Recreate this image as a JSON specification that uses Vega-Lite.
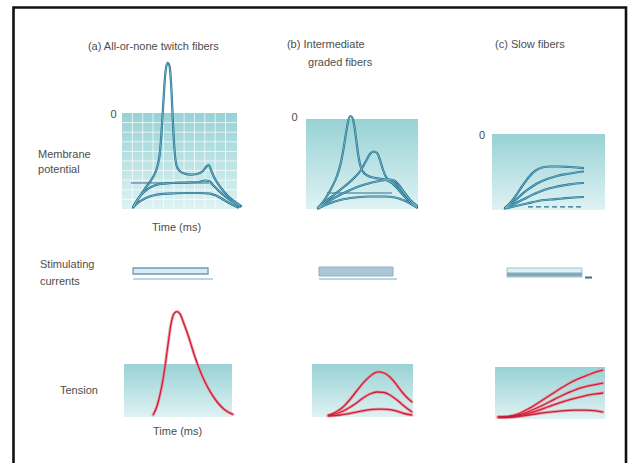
{
"$schema": "https://vega.github.io/schema/vega-lite/v6.json",
"width": 632, "height": 463, "padding": 0, "autosize": {"type": "none"},
"background": "#ffffff",
"config": {"view": {"stroke": null}, "text": {"font": "Liberation Sans"}},
"datasets": {
"frame": [{"t": 0, "t2": 1, "v": 0, "v2": 1}],
"am_bg": [{"t": 0, "t2": 100, "v": -90, "v2": 0}],
"am_grid": [
{"t": 9, "t2": 9, "v": -90, "v2": 0}, {"t": 18, "t2": 18, "v": -90, "v2": 0}, {"t": 27, "t2": 27, "v": -90, "v2": 0},
{"t": 36, "t2": 36, "v": -90, "v2": 0}, {"t": 45, "t2": 45, "v": -90, "v2": 0}, {"t": 54, "t2": 54, "v": -90, "v2": 0},
{"t": 63, "t2": 63, "v": -90, "v2": 0}, {"t": 72, "t2": 72, "v": -90, "v2": 0}, {"t": 81, "t2": 81, "v": -90, "v2": 0},
{"t": 90, "t2": 90, "v": -90, "v2": 0},
{"t": 0, "t2": 100, "v": -9, "v2": -9}, {"t": 0, "t2": 100, "v": -18, "v2": -18}, {"t": 0, "t2": 100, "v": -27, "v2": -27},
{"t": 0, "t2": 100, "v": -36, "v2": -36}, {"t": 0, "t2": 100, "v": -45, "v2": -45}, {"t": 0, "t2": 100, "v": -54, "v2": -54},
{"t": 0, "t2": 100, "v": -63, "v2": -63}, {"t": 0, "t2": 100, "v": -72, "v2": -72}, {"t": 0, "t2": 100, "v": -81, "v2": -81}
],
"am_thr": [{"t": 7.8, "t2": 75.7, "v": -65.6, "v2": -65.6}],
"am_curves": [
{"s": "S", "t": 9.6, "v": -88.1}, {"s": "S", "t": 15.7, "v": -77.8}, {"s": "S", "t": 21.7, "v": -68.4}, {"s": "S", "t": 27.0, "v": -60.0},
{"s": "S", "t": 30.4, "v": -51.6}, {"s": "S", "t": 33.0, "v": -36.6}, {"s": "S", "t": 34.8, "v": -11.3}, {"s": "S", "t": 36.5, "v": 19.7},
{"s": "S", "t": 37.8, "v": 38.4}, {"s": "S", "t": 39.6, "v": 46.9}, {"s": "S", "t": 41.3, "v": 44.1}, {"s": "S", "t": 42.6, "v": 29.1},
{"s": "S", "t": 43.9, "v": 0.9}, {"s": "S", "t": 45.2, "v": -27.2}, {"s": "S", "t": 46.5, "v": -44.1}, {"s": "S", "t": 48.7, "v": -52.5},
{"s": "S", "t": 53.0, "v": -56.3}, {"s": "S", "t": 59.1, "v": -57.7}, {"s": "S", "t": 65.2, "v": -57.2}, {"s": "S", "t": 70.4, "v": -54.4},
{"s": "S", "t": 73.9, "v": -49.7}, {"s": "S", "t": 75.7, "v": -48.8}, {"s": "S", "t": 77.4, "v": -53.4}, {"s": "S", "t": 80.9, "v": -61.9},
{"s": "S", "t": 86.1, "v": -70.3}, {"s": "S", "t": 92.2, "v": -77.8}, {"s": "S", "t": 98.3, "v": -83.4}, {"s": "S", "t": 103.5, "v": -87.2},
{"s": "M", "t": 9.6, "v": -88.1}, {"s": "M", "t": 13.9, "v": -80.6}, {"s": "M", "t": 19.1, "v": -74.1}, {"s": "M", "t": 25.2, "v": -69.4},
{"s": "M", "t": 33.0, "v": -66.6}, {"s": "M", "t": 43.5, "v": -65.6}, {"s": "M", "t": 54.8, "v": -65.2}, {"s": "M", "t": 66.1, "v": -64.7},
{"s": "M", "t": 72.2, "v": -63.3}, {"s": "M", "t": 75.7, "v": -63.8}, {"s": "M", "t": 79.1, "v": -67.5}, {"s": "M", "t": 84.3, "v": -73.1},
{"s": "M", "t": 90.4, "v": -78.8}, {"s": "M", "t": 96.5, "v": -83.4}, {"s": "M", "t": 102.6, "v": -87.7},
{"s": "L", "t": 9.6, "v": -88.6}, {"s": "L", "t": 14.8, "v": -83.4}, {"s": "L", "t": 20.9, "v": -79.7}, {"s": "L", "t": 28.7, "v": -76.9},
{"s": "L", "t": 40.0, "v": -75.5}, {"s": "L", "t": 54.8, "v": -75.0}, {"s": "L", "t": 67.8, "v": -75.0}, {"s": "L", "t": 76.5, "v": -75.5},
{"s": "L", "t": 82.6, "v": -77.8}, {"s": "L", "t": 88.7, "v": -81.6}, {"s": "L", "t": 94.8, "v": -85.3}, {"s": "L", "t": 100.9, "v": -88.6}
],
"am_text": [
{"t": -29.6, "v": 61.9, "label": "(a) All-or-none twitch fibers"},
{"t": -10, "v": -1.5, "label": "0"},
{"t": -73, "v": -39.4, "label": "Membrane"},
{"t": -73, "v": -53.4, "label": "potential"},
{"t": 26.1, "v": -107.8, "label": "Time (ms)"}
],
"bm_bg": [{"t": 0, "t2": 100, "v": -90, "v2": 0}],
"bm_thr": [{"t": 18.8, "t2": 76.8, "v": -74, "v2": -74}],
"bm_curves": [
{"s": "B1", "t": 10.7, "v": -89}, {"s": "B1", "t": 17.0, "v": -80}, {"s": "B1", "t": 22.3, "v": -70}, {"s": "B1", "t": 27.7, "v": -57},
{"s": "B1", "t": 31.3, "v": -43}, {"s": "B1", "t": 33.9, "v": -27}, {"s": "B1", "t": 36.2, "v": -11}, {"s": "B1", "t": 37.9, "v": -1},
{"s": "B1", "t": 39.7, "v": 3}, {"s": "B1", "t": 41.5, "v": 1}, {"s": "B1", "t": 43.3, "v": -8}, {"s": "B1", "t": 45.1, "v": -23},
{"s": "B1", "t": 46.9, "v": -38}, {"s": "B1", "t": 49.1, "v": -49}, {"s": "B1", "t": 52.7, "v": -55}, {"s": "B1", "t": 58.0, "v": -58},
{"s": "B1", "t": 65.2, "v": -59.5}, {"s": "B1", "t": 71.4, "v": -61}, {"s": "B1", "t": 76.8, "v": -64}, {"s": "B1", "t": 82.1, "v": -70},
{"s": "B1", "t": 87.5, "v": -77}, {"s": "B1", "t": 92.9, "v": -83}, {"s": "B1", "t": 99.1, "v": -88},
{"s": "B2", "t": 10.7, "v": -89}, {"s": "B2", "t": 17.9, "v": -82}, {"s": "B2", "t": 25.9, "v": -75}, {"s": "B2", "t": 34.8, "v": -67},
{"s": "B2", "t": 42.9, "v": -59}, {"s": "B2", "t": 49.1, "v": -51}, {"s": "B2", "t": 53.6, "v": -42}, {"s": "B2", "t": 57.1, "v": -35},
{"s": "B2", "t": 60.3, "v": -32.5}, {"s": "B2", "t": 63.4, "v": -34}, {"s": "B2", "t": 66.1, "v": -41}, {"s": "B2", "t": 68.8, "v": -51},
{"s": "B2", "t": 71.4, "v": -58}, {"s": "B2", "t": 75.0, "v": -62}, {"s": "B2", "t": 79.5, "v": -65}, {"s": "B2", "t": 83.9, "v": -69},
{"s": "B2", "t": 88.4, "v": -75}, {"s": "B2", "t": 93.8, "v": -82}, {"s": "B2", "t": 99.1, "v": -87.5},
{"s": "B3", "t": 10.7, "v": -89}, {"s": "B3", "t": 17.9, "v": -84}, {"s": "B3", "t": 26.8, "v": -78}, {"s": "B3", "t": 37.5, "v": -72},
{"s": "B3", "t": 48.2, "v": -67}, {"s": "B3", "t": 58.9, "v": -63.5}, {"s": "B3", "t": 67.9, "v": -61.5}, {"s": "B3", "t": 74.1, "v": -60.5},
{"s": "B3", "t": 78.6, "v": -61.5}, {"s": "B3", "t": 83.0, "v": -66}, {"s": "B3", "t": 87.5, "v": -73}, {"s": "B3", "t": 92.9, "v": -81},
{"s": "B3", "t": 99.1, "v": -87},
{"s": "B4", "t": 10.7, "v": -89.5}, {"s": "B4", "t": 19.6, "v": -85}, {"s": "B4", "t": 30.4, "v": -81}, {"s": "B4", "t": 43.8, "v": -78.5},
{"s": "B4", "t": 57.1, "v": -77.5}, {"s": "B4", "t": 70.5, "v": -77.5}, {"s": "B4", "t": 79.5, "v": -78.5}, {"s": "B4", "t": 86.6, "v": -81},
{"s": "B4", "t": 92.9, "v": -84.5}, {"s": "B4", "t": 99.1, "v": -88.5}
],
"bm_text": [
{"t": -17, "v": 74, "label": "(b) Intermediate"},
{"t": 1.8, "v": 56, "label": "graded fibers"},
{"t": -12.9, "v": 1, "label": "0"}
],
"cm_bg": [{"t": 0, "t2": 100, "v": -90, "v2": 0}],
"cm_thr": [{"t": 31.9, "t2": 79.6, "v": -86.4, "v2": -86.4}],
"cm_curves": [
{"s": "C1", "t": 11.5, "v": -87.6}, {"s": "C1", "t": 16.8, "v": -80.5}, {"s": "C1", "t": 22.1, "v": -71.1}, {"s": "C1", "t": 27.4, "v": -60.4},
{"s": "C1", "t": 32.7, "v": -50.9}, {"s": "C1", "t": 38.1, "v": -43.8}, {"s": "C1", "t": 44.2, "v": -39.7}, {"s": "C1", "t": 51.3, "v": -38.5},
{"s": "C1", "t": 60.2, "v": -38.5}, {"s": "C1", "t": 69.0, "v": -39.1}, {"s": "C1", "t": 75.2, "v": -39.7}, {"s": "C1", "t": 80.5, "v": -40.3},
{"s": "C2", "t": 11.5, "v": -87.6}, {"s": "C2", "t": 17.7, "v": -81.7}, {"s": "C2", "t": 24.8, "v": -73.4}, {"s": "C2", "t": 31.9, "v": -65.7},
{"s": "C2", "t": 39.8, "v": -58.6}, {"s": "C2", "t": 48.7, "v": -53.3}, {"s": "C2", "t": 57.5, "v": -49.7}, {"s": "C2", "t": 66.4, "v": -47.4},
{"s": "C2", "t": 74.3, "v": -45.6}, {"s": "C2", "t": 80.5, "v": -44.4},
{"s": "C3", "t": 11.5, "v": -87.6}, {"s": "C3", "t": 19.5, "v": -82.9}, {"s": "C3", "t": 28.3, "v": -77.0}, {"s": "C3", "t": 37.2, "v": -71.1},
{"s": "C3", "t": 46.0, "v": -66.3}, {"s": "C3", "t": 55.8, "v": -62.8}, {"s": "C3", "t": 65.5, "v": -60.4}, {"s": "C3", "t": 74.3, "v": -58.6},
{"s": "C3", "t": 80.5, "v": -58.0},
{"s": "C4", "t": 11.5, "v": -88.2}, {"s": "C4", "t": 21.2, "v": -85.3}, {"s": "C4", "t": 31.0, "v": -82.3}, {"s": "C4", "t": 40.7, "v": -79.3},
{"s": "C4", "t": 51.3, "v": -77.6}, {"s": "C4", "t": 61.9, "v": -76.4}, {"s": "C4", "t": 72.6, "v": -75.2}, {"s": "C4", "t": 80.5, "v": -74.6}
],
"cm_text": [
{"t": 2.7, "v": 105.4, "label": "(c) Slow fibers"},
{"t": -11.5, "v": -2.4, "label": "0"}
],
"sa_rect": [{"t": 9.6, "t2": 74.8, "v": 7, "v2": 13}],
"sa_line": [{"t": 9.6, "t2": 79.1, "v": 2, "v2": 2}],
"sa_text": [
{"t": -71.3, "v": 16, "label": "Stimulating"},
{"t": -71.3, "v": -1, "label": "currents"}
],
"sb_rect": [{"t": 11.6, "t2": 77.7, "v": 5, "v2": 14}],
"sb_line": [{"t": 11.6, "t2": 81.3, "v": 2, "v2": 2}],
"sc_rect": [{"t": 13.3, "t2": 79.6, "v": 4, "v2": 13}],
"sc_band": [{"t": 13.3, "t2": 79.6, "v": 4.5, "v2": 8.5}],
"sc_tick": [{"t": 82.3, "t2": 88.5, "v": 3.5, "v2": 3.5}],
"at_bg": [{"t": 0, "t2": 100, "v": 0, "v2": 50}],
"at_curves": [
{"s": "A", "t": 26.9, "v": 1.9}, {"s": "A", "t": 30.6, "v": 10.4}, {"s": "A", "t": 34.3, "v": 25.5}, {"s": "A", "t": 37.5, "v": 44.3},
{"s": "A", "t": 40.7, "v": 67.9}, {"s": "A", "t": 43.5, "v": 87.7}, {"s": "A", "t": 46.3, "v": 97.6}, {"s": "A", "t": 49.1, "v": 99.5},
{"s": "A", "t": 51.9, "v": 97.2}, {"s": "A", "t": 55.6, "v": 87.7}, {"s": "A", "t": 60.2, "v": 74.5}, {"s": "A", "t": 64.8, "v": 59.4},
{"s": "A", "t": 69.4, "v": 46.2}, {"s": "A", "t": 75.0, "v": 33.0}, {"s": "A", "t": 80.6, "v": 22.6}, {"s": "A", "t": 87.0, "v": 13.2},
{"s": "A", "t": 93.5, "v": 6.6}, {"s": "A", "t": 100.9, "v": 2.4}
],
"at_text": [
{"t": -59.3, "v": 24.5, "label": "Tension"},
{"t": 26.9, "v": -14.2, "label": "Time (ms)"}
],
"bt_bg": [{"t": 0, "t2": 100, "v": 0, "v2": 50}],
"bt_curves": [
{"s": "T1", "t": 15.8, "v": 1.4}, {"s": "T1", "t": 22.8, "v": 4.2}, {"s": "T1", "t": 30.7, "v": 9.4}, {"s": "T1", "t": 37.6, "v": 16.5},
{"s": "T1", "t": 44.6, "v": 25.0}, {"s": "T1", "t": 51.5, "v": 33.0}, {"s": "T1", "t": 58.4, "v": 39.2}, {"s": "T1", "t": 65.3, "v": 42.5},
{"s": "T1", "t": 71.3, "v": 41.5}, {"s": "T1", "t": 77.2, "v": 37.7}, {"s": "T1", "t": 83.2, "v": 31.1}, {"s": "T1", "t": 89.1, "v": 23.6},
{"s": "T1", "t": 95.0, "v": 17.5}, {"s": "T1", "t": 99.0, "v": 14.2},
{"s": "T2", "t": 15.8, "v": 1.4}, {"s": "T2", "t": 24.8, "v": 3.3}, {"s": "T2", "t": 33.7, "v": 7.1}, {"s": "T2", "t": 42.6, "v": 12.3},
{"s": "T2", "t": 50.5, "v": 17.9}, {"s": "T2", "t": 57.4, "v": 21.7}, {"s": "T2", "t": 64.4, "v": 23.6}, {"s": "T2", "t": 71.3, "v": 23.1},
{"s": "T2", "t": 77.2, "v": 20.8}, {"s": "T2", "t": 84.2, "v": 16.0}, {"s": "T2", "t": 91.1, "v": 10.4}, {"s": "T2", "t": 99.0, "v": 4.7},
{"s": "T3", "t": 15.8, "v": 0.9}, {"s": "T3", "t": 27.7, "v": 1.9}, {"s": "T3", "t": 39.6, "v": 3.8}, {"s": "T3", "t": 49.5, "v": 5.7},
{"s": "T3", "t": 59.4, "v": 7.1}, {"s": "T3", "t": 67.3, "v": 7.5}, {"s": "T3", "t": 75.2, "v": 7.1}, {"s": "T3", "t": 83.2, "v": 5.7},
{"s": "T3", "t": 91.1, "v": 3.3}, {"s": "T3", "t": 99.0, "v": 1.9}
],
"ct_bg": [{"t": 0, "t2": 100, "v": 0, "v2": 50}],
"ct_curves": [
{"s": "U1", "t": 2.7, "v": 1.9}, {"s": "U1", "t": 11.8, "v": 2.4}, {"s": "U1", "t": 20.9, "v": 4.8}, {"s": "U1", "t": 30.0, "v": 9.6},
{"s": "U1", "t": 39.1, "v": 15.4}, {"s": "U1", "t": 48.2, "v": 21.6}, {"s": "U1", "t": 57.3, "v": 27.9}, {"s": "U1", "t": 66.4, "v": 33.7},
{"s": "U1", "t": 75.5, "v": 38.5}, {"s": "U1", "t": 84.5, "v": 42.3}, {"s": "U1", "t": 91.8, "v": 45.2}, {"s": "U1", "t": 98.2, "v": 47.1},
{"s": "U2", "t": 2.7, "v": 1.9}, {"s": "U2", "t": 13.6, "v": 2.4}, {"s": "U2", "t": 22.7, "v": 4.3}, {"s": "U2", "t": 31.8, "v": 7.7},
{"s": "U2", "t": 40.9, "v": 12.0}, {"s": "U2", "t": 50.0, "v": 16.8}, {"s": "U2", "t": 59.1, "v": 21.6}, {"s": "U2", "t": 68.2, "v": 26.0},
{"s": "U2", "t": 77.3, "v": 29.8}, {"s": "U2", "t": 86.4, "v": 32.2}, {"s": "U2", "t": 98.2, "v": 34.6},
{"s": "U3", "t": 2.7, "v": 1.9}, {"s": "U3", "t": 15.5, "v": 2.4}, {"s": "U3", "t": 24.5, "v": 3.8}, {"s": "U3", "t": 33.6, "v": 6.3},
{"s": "U3", "t": 42.7, "v": 9.6}, {"s": "U3", "t": 51.8, "v": 13.0}, {"s": "U3", "t": 60.9, "v": 16.3}, {"s": "U3", "t": 70.0, "v": 19.2},
{"s": "U3", "t": 79.1, "v": 21.6}, {"s": "U3", "t": 88.2, "v": 23.6}, {"s": "U3", "t": 98.2, "v": 25.0},
{"s": "U4", "t": 2.7, "v": 1.4}, {"s": "U4", "t": 17.3, "v": 1.9}, {"s": "U4", "t": 28.2, "v": 3.4}, {"s": "U4", "t": 39.1, "v": 5.3},
{"s": "U4", "t": 50.0, "v": 6.7}, {"s": "U4", "t": 60.9, "v": 7.9}, {"s": "U4", "t": 71.8, "v": 8.5}, {"s": "U4", "t": 82.7, "v": 8.5},
{"s": "U4", "t": 91.8, "v": 7.9}, {"s": "U4", "t": 98.2, "v": 6.7}
]
},
"resolve": {"scale": {"x": "independent", "y": "independent"}},
"layer": [
{
"data": {"name": "frame"},
"mark": {"type": "rect", "filled": false, "color": "#111111", "strokeWidth": 2.6},
"encoding": {
"x": {"field": "t", "type": "quantitative", "scale": {"domain": [0, 1], "range": [13.5, 626], "nice": false, "zero": false}, "axis": null},
"x2": {"field": "t2"},
"y": {"field": "v", "type": "quantitative", "scale": {"domain": [0, 1], "range": [7.5, 480], "nice": false, "zero": false}, "axis": null},
"y2": {"field": "v2"}
}
},
{
"encoding": {
"x": {"field": "t", "type": "quantitative", "scale": {"domain": [0, 100], "range": [122, 237], "nice": false, "zero": false}, "axis": null},
"y": {"field": "v", "type": "quantitative", "scale": {"domain": [-90, 0], "range": [209, 113], "nice": false, "zero": false}, "axis": null}
},
"layer": [
{"data": {"name": "am_bg"}, "mark": {"type": "rect", "stroke": null, "fill": {"gradient": "linear", "x1": 0, "y1": 0, "x2": 0, "y2": 1, "stops": [{"offset": 0, "color": "#98d2d5"}, {"offset": 1, "color": "#dff2f3"}]}}, "encoding": {"x2": {"field": "t2"}, "y2": {"field": "v2"}}},
{"data": {"name": "am_grid"}, "mark": {"type": "rule", "color": "#ffffff", "strokeWidth": 1, "opacity": 0.7}, "encoding": {"x2": {"field": "t2"}, "y2": {"field": "v2"}}},
{"data": {"name": "am_thr"}, "mark": {"type": "rule", "color": "#2a7090", "strokeWidth": 1}, "encoding": {"x2": {"field": "t2"}, "y2": {"field": "v2"}}},
{"data": {"name": "am_curves"}, "mark": {"type": "line", "interpolate": "monotone", "color": "#22708f", "strokeWidth": 2.2, "strokeJoin": "round", "strokeCap": "round"}, "encoding": {"detail": {"field": "s", "type": "nominal"}}},
{"data": {"name": "am_curves"}, "mark": {"type": "line", "interpolate": "monotone", "color": "#8cc8d8", "strokeWidth": 0.7}, "encoding": {"detail": {"field": "s", "type": "nominal"}}},
{"data": {"name": "am_text"}, "mark": {"type": "text", "align": "left", "baseline": "middle", "fontSize": 11, "color": "#4d4d4d"}, "encoding": {"text": {"field": "label", "type": "nominal"}}}
]
},
{
"encoding": {
"x": {"field": "t", "type": "quantitative", "scale": {"domain": [0, 100], "range": [306, 418], "nice": false, "zero": false}, "axis": null},
"y": {"field": "v", "type": "quantitative", "scale": {"domain": [-90, 0], "range": [209, 119], "nice": false, "zero": false}, "axis": null}
},
"layer": [
{"data": {"name": "bm_bg"}, "mark": {"type": "rect", "stroke": null, "fill": {"gradient": "linear", "x1": 0, "y1": 0, "x2": 0, "y2": 1, "stops": [{"offset": 0, "color": "#98d2d5"}, {"offset": 1, "color": "#dff2f3"}]}}, "encoding": {"x2": {"field": "t2"}, "y2": {"field": "v2"}}},
{"data": {"name": "bm_thr"}, "mark": {"type": "rule", "color": "#2a7090", "strokeWidth": 1.2}, "encoding": {"x2": {"field": "t2"}, "y2": {"field": "v2"}}},
{"data": {"name": "bm_curves"}, "mark": {"type": "line", "interpolate": "monotone", "color": "#22708f", "strokeWidth": 2.2, "strokeJoin": "round", "strokeCap": "round"}, "encoding": {"detail": {"field": "s", "type": "nominal"}}},
{"data": {"name": "bm_curves"}, "mark": {"type": "line", "interpolate": "monotone", "color": "#8cc8d8", "strokeWidth": 0.7}, "encoding": {"detail": {"field": "s", "type": "nominal"}}},
{"data": {"name": "bm_text"}, "mark": {"type": "text", "align": "left", "baseline": "middle", "fontSize": 11, "color": "#4d4d4d"}, "encoding": {"text": {"field": "label", "type": "nominal"}}}
]
},
{
"encoding": {
"x": {"field": "t", "type": "quantitative", "scale": {"domain": [0, 100], "range": [492, 605], "nice": false, "zero": false}, "axis": null},
"y": {"field": "v", "type": "quantitative", "scale": {"domain": [-90, 0], "range": [210, 134], "nice": false, "zero": false}, "axis": null}
},
"layer": [
{"data": {"name": "cm_bg"}, "mark": {"type": "rect", "stroke": null, "fill": {"gradient": "linear", "x1": 0, "y1": 0, "x2": 0, "y2": 1, "stops": [{"offset": 0, "color": "#98d2d5"}, {"offset": 1, "color": "#dff2f3"}]}}, "encoding": {"x2": {"field": "t2"}, "y2": {"field": "v2"}}},
{"data": {"name": "cm_thr"}, "mark": {"type": "rule", "color": "#2a7090", "strokeWidth": 1.2, "strokeDash": [5, 3]}, "encoding": {"x2": {"field": "t2"}, "y2": {"field": "v2"}}},
{"data": {"name": "cm_curves"}, "mark": {"type": "line", "interpolate": "monotone", "color": "#22708f", "strokeWidth": 2.2, "strokeJoin": "round", "strokeCap": "round"}, "encoding": {"detail": {"field": "s", "type": "nominal"}}},
{"data": {"name": "cm_curves"}, "mark": {"type": "line", "interpolate": "monotone", "color": "#8cc8d8", "strokeWidth": 0.7}, "encoding": {"detail": {"field": "s", "type": "nominal"}}},
{"data": {"name": "cm_text"}, "mark": {"type": "text", "align": "left", "baseline": "middle", "fontSize": 11, "color": "#4d4d4d"}, "encoding": {"text": {"field": "label", "type": "nominal"}}}
]
},
{
"encoding": {
"x": {"field": "t", "type": "quantitative", "scale": {"domain": [0, 100], "range": [122, 237], "nice": false, "zero": false}, "axis": null},
"y": {"field": "v", "type": "quantitative", "scale": {"domain": [0, 16], "range": [281, 265], "nice": false, "zero": false}, "axis": null}
},
"layer": [
{"data": {"name": "sa_rect"}, "mark": {"type": "rect", "fill": "#d6ecf2", "stroke": "#6c9db6", "strokeWidth": 1.3}, "encoding": {"x2": {"field": "t2"}, "y2": {"field": "v2"}}},
{"data": {"name": "sa_line"}, "mark": {"type": "rule", "color": "#a5c8d6", "strokeWidth": 1.6}, "encoding": {"x2": {"field": "t2"}, "y2": {"field": "v2"}}},
{"data": {"name": "sa_text"}, "mark": {"type": "text", "align": "left", "baseline": "middle", "fontSize": 11, "color": "#4d4d4d"}, "encoding": {"text": {"field": "label", "type": "nominal"}}}
]
},
{
"encoding": {
"x": {"field": "t", "type": "quantitative", "scale": {"domain": [0, 100], "range": [306, 418], "nice": false, "zero": false}, "axis": null},
"y": {"field": "v", "type": "quantitative", "scale": {"domain": [0, 16], "range": [281, 265], "nice": false, "zero": false}, "axis": null}
},
"layer": [
{"data": {"name": "sb_rect"}, "mark": {"type": "rect", "fill": "#a9c7d4", "stroke": "#8fb2c3", "strokeWidth": 1}, "encoding": {"x2": {"field": "t2"}, "y2": {"field": "v2"}}},
{"data": {"name": "sb_line"}, "mark": {"type": "rule", "color": "#a5c8d6", "strokeWidth": 1.6}, "encoding": {"x2": {"field": "t2"}, "y2": {"field": "v2"}}}
]
},
{
"encoding": {
"x": {"field": "t", "type": "quantitative", "scale": {"domain": [0, 100], "range": [492, 605], "nice": false, "zero": false}, "axis": null},
"y": {"field": "v", "type": "quantitative", "scale": {"domain": [0, 16], "range": [281, 265], "nice": false, "zero": false}, "axis": null}
},
"layer": [
{"data": {"name": "sc_rect"}, "mark": {"type": "rect", "fill": "#e1f0f5", "stroke": "#9cc1d1", "strokeWidth": 1}, "encoding": {"x2": {"field": "t2"}, "y2": {"field": "v2"}}},
{"data": {"name": "sc_band"}, "mark": {"type": "rect", "fill": "#7fa9bf", "stroke": null}, "encoding": {"x2": {"field": "t2"}, "y2": {"field": "v2"}}},
{"data": {"name": "sc_tick"}, "mark": {"type": "rule", "color": "#3f6f88", "strokeWidth": 2}, "encoding": {"x2": {"field": "t2"}, "y2": {"field": "v2"}}}
]
},
{
"encoding": {
"x": {"field": "t", "type": "quantitative", "scale": {"domain": [0, 100], "range": [124, 232], "nice": false, "zero": false}, "axis": null},
"y": {"field": "v", "type": "quantitative", "scale": {"domain": [0, 50], "range": [417, 364], "nice": false, "zero": false}, "axis": null}
},
"layer": [
{"data": {"name": "at_bg"}, "mark": {"type": "rect", "stroke": null, "fill": {"gradient": "linear", "x1": 0, "y1": 0, "x2": 0, "y2": 1, "stops": [{"offset": 0, "color": "#98d2d5"}, {"offset": 1, "color": "#dff2f3"}]}}, "encoding": {"x2": {"field": "t2"}, "y2": {"field": "v2"}}},
{"data": {"name": "at_curves"}, "mark": {"type": "line", "interpolate": "monotone", "color": "#f08a97", "strokeWidth": 3, "opacity": 0.8, "strokeCap": "round"}, "encoding": {"detail": {"field": "s", "type": "nominal"}}},
{"data": {"name": "at_curves"}, "mark": {"type": "line", "interpolate": "monotone", "color": "#cc1f36", "strokeWidth": 1.3}, "encoding": {"detail": {"field": "s", "type": "nominal"}}},
{"data": {"name": "at_text"}, "mark": {"type": "text", "align": "left", "baseline": "middle", "fontSize": 11, "color": "#4d4d4d"}, "encoding": {"text": {"field": "label", "type": "nominal"}}}
]
},
{
"encoding": {
"x": {"field": "t", "type": "quantitative", "scale": {"domain": [0, 100], "range": [312, 413], "nice": false, "zero": false}, "axis": null},
"y": {"field": "v", "type": "quantitative", "scale": {"domain": [0, 50], "range": [417, 364], "nice": false, "zero": false}, "axis": null}
},
"layer": [
{"data": {"name": "bt_bg"}, "mark": {"type": "rect", "stroke": null, "fill": {"gradient": "linear", "x1": 0, "y1": 0, "x2": 0, "y2": 1, "stops": [{"offset": 0, "color": "#98d2d5"}, {"offset": 1, "color": "#dff2f3"}]}}, "encoding": {"x2": {"field": "t2"}, "y2": {"field": "v2"}}},
{"data": {"name": "bt_curves"}, "mark": {"type": "line", "interpolate": "monotone", "color": "#f08a97", "strokeWidth": 3, "opacity": 0.8, "strokeCap": "round"}, "encoding": {"detail": {"field": "s", "type": "nominal"}}},
{"data": {"name": "bt_curves"}, "mark": {"type": "line", "interpolate": "monotone", "color": "#cc1f36", "strokeWidth": 1.3}, "encoding": {"detail": {"field": "s", "type": "nominal"}}}
]
},
{
"encoding": {
"x": {"field": "t", "type": "quantitative", "scale": {"domain": [0, 100], "range": [495, 605], "nice": false, "zero": false}, "axis": null},
"y": {"field": "v", "type": "quantitative", "scale": {"domain": [0, 50], "range": [419, 367], "nice": false, "zero": false}, "axis": null}
},
"layer": [
{"data": {"name": "ct_bg"}, "mark": {"type": "rect", "stroke": null, "fill": {"gradient": "linear", "x1": 0, "y1": 0, "x2": 0, "y2": 1, "stops": [{"offset": 0, "color": "#98d2d5"}, {"offset": 1, "color": "#dff2f3"}]}}, "encoding": {"x2": {"field": "t2"}, "y2": {"field": "v2"}}},
{"data": {"name": "ct_curves"}, "mark": {"type": "line", "interpolate": "monotone", "color": "#f08a97", "strokeWidth": 3, "opacity": 0.8, "strokeCap": "round"}, "encoding": {"detail": {"field": "s", "type": "nominal"}}},
{"data": {"name": "ct_curves"}, "mark": {"type": "line", "interpolate": "monotone", "color": "#cc1f36", "strokeWidth": 1.3}, "encoding": {"detail": {"field": "s", "type": "nominal"}}}
]
}
]
}
